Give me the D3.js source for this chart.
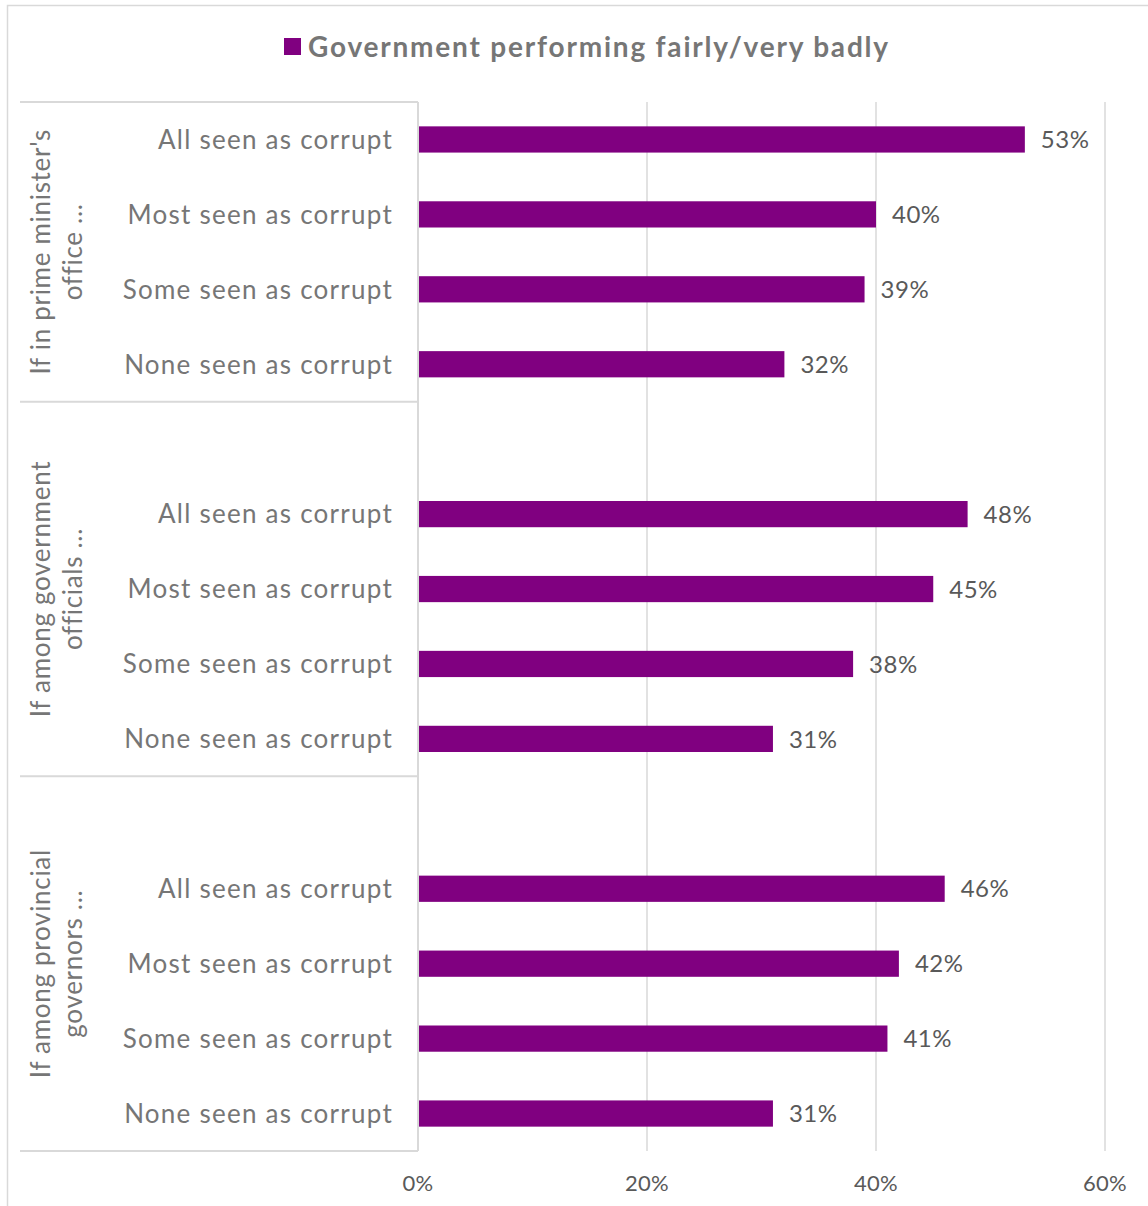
<!DOCTYPE html>
<html>
<head>
<meta charset="utf-8">
<script src="https://cdn.jsdelivr.net/npm/d3@7"></script>
<style>
  html, body { margin: 0; padding: 0; background: #fff; }
  svg { display: block; }
</style>
</head>
<body>
<svg id="chart" width="1148" height="1206"></svg>
<script>
// Groups of respondents and the corruption levels asked about
const groups = ["If in prime minister's office ...", "If among government officials ...", "If among provincial governors ..."];
const groupLines = [["If in prime minister's", "office ..."], ["If among government", "officials ..."], ["If among provincial", "governors ..."]];
const levels = ["All seen as corrupt", "Most seen as corrupt", "Some seen as corrupt", "None seen as corrupt"];
// Share saying the government is performing fairly/very badly (%)
const pmOffice = [53, 40, 39, 32];
const officials = [48, 45, 38, 31];
const governors = [46, 42, 41, 31];
const seriesName = "Government performing fairly/very badly";
const xTicks = [0, 20, 40, 60];

const values = [pmOffice, officials, governors];

// Row keys: each later group starts with a spacer row
const rows = [];
groups.forEach((g, gi) => {
  if (gi > 0) rows.push({ key: g + "|spacer", group: gi, spacer: true });
  levels.forEach((l, li) => rows.push({ key: g + "|" + l, group: gi, label: l, value: values[gi][li] }));
});

const FONT = "Lato, 'Noto Sans', sans-serif";
const svg = d3.select("#chart");

const plot = { left: 418, right: 1105, top: 102, bottom: 1151 };

const x = d3.scaleLinear().domain([0, 60]).range([plot.left, plot.right]);
const y = d3.scaleBand().domain(rows.map(r => r.key)).range([plot.top, plot.bottom])
  .paddingInner(0.65).paddingOuter(0.325);

// Chart frame
svg.append("rect").attr("x", 7.5).attr("y", 5.5).attr("width", 1150).attr("height", 1220)
  .attr("fill", "#fff").attr("stroke", "#d9d9d9").attr("stroke-width", 1.5);

// Vertical gridlines
svg.append("g").selectAll("line").data(xTicks.slice(1)).join("line")
  .attr("x1", d => x(d)).attr("x2", d => x(d))
  .attr("y1", plot.top).attr("y2", plot.bottom)
  .attr("stroke", "#d9d9d9").attr("stroke-width", 1.5);

// Group boundaries on the category axis
const step = y.step();
const groupBounds = [];
let cursor = plot.top;
groups.forEach((g, gi) => {
  const n = rows.filter(r => r.group === gi).length;
  groupBounds.push({ gi, y0: cursor, y1: cursor + n * step });
  cursor += n * step;
});
const bounds = [plot.top].concat(groupBounds.map(b => b.y1));
svg.append("g").selectAll("line").data(bounds).join("line")
  .attr("x1", 20).attr("x2", plot.left)
  .attr("y1", d => d).attr("y2", d => d)
  .attr("stroke", "#d9d9d9").attr("stroke-width", 2);
svg.append("line").attr("x1", plot.left).attr("x2", plot.left)
  .attr("y1", plot.top).attr("y2", plot.bottom)
  .attr("stroke", "#d9d9d9").attr("stroke-width", 2);

// Bars
const dataRows = rows.filter(r => !r.spacer);
svg.append("g").selectAll("rect").data(dataRows).join("rect")
  .attr("x", x(0) + 1).attr("y", d => y(d.key))
  .attr("width", d => x(d.value) - x(0) - 1).attr("height", y.bandwidth())
  .attr("fill", "#800080");

// Value labels
svg.append("g").selectAll("text").data(dataRows).join("text")
  .attr("x", d => x(d.value) + 16).attr("y", d => y(d.key) + y.bandwidth() / 2)
  .attr("dy", "0.36em")
  .attr("font-family", FONT).attr("font-size", 24).attr("fill", "#595959")
  .attr("letter-spacing", 0.5)
  .text(d => d.value + "%");

// Category labels
svg.append("g").selectAll("text").data(dataRows).join("text")
  .attr("x", 393).attr("y", d => y(d.key) + y.bandwidth() / 2)
  .attr("dy", "0.36em").attr("text-anchor", "end")
  .attr("font-family", FONT).attr("font-size", 26).attr("fill", "#767676")
  .attr("letter-spacing", 1.25)
  .text(d => d.label);

// Group labels, rotated
const gl = svg.append("g").selectAll("text").data(groupBounds).join("text")
  .attr("transform", d => `translate(56,${(d.y0 + d.y1) / 2}) rotate(-90)`)
  .attr("text-anchor", "middle")
  .attr("font-family", FONT).attr("font-size", 26).attr("fill", "#767676")
  .attr("letter-spacing", 0.7);
gl.selectAll("tspan").data(d => groupLines[d.gi].map((t, i) => ({ t, i }))).join("tspan")
  .attr("x", 0).attr("y", d => d.i === 0 ? -6 : 26)
  .text(d => d.t);

// X axis tick labels
svg.append("g").selectAll("text").data(xTicks).join("text")
  .attr("x", d => x(d)).attr("y", 1183).attr("dy", "0.36em")
  .attr("text-anchor", "middle")
  .attr("font-family", FONT).attr("font-size", 22).attr("fill", "#595959")
  .attr("letter-spacing", 0.3)
  .text(d => d + "%");

// Legend
const legend = svg.append("g");
legend.append("text").attr("x", 308).attr("y", 47).attr("dy", "0.36em")
  .attr("font-family", FONT).attr("font-size", 28).attr("font-weight", "bold").attr("fill", "#767676")
  .attr("letter-spacing", 1.8)
  .text(seriesName);
legend.append("rect").attr("x", 284).attr("y", 38).attr("width", 17).attr("height", 17).attr("fill", "#800080");
</script>
</body>
</html>
